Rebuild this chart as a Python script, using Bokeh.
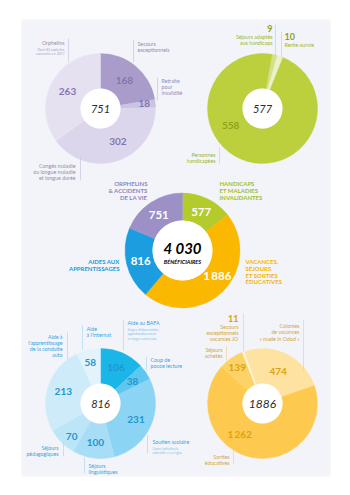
import numpy as np
from bokeh.plotting import figure
from bokeh.core.properties import value
from bokeh.embed import file_html
from bokeh.resources import INLINE

W, H = 350, 495

# ---------------- data ----------------
main_categories = ["HANDICAPS\nET MALADIES\nINVALIDANTES",
                   "VACANCES,\nSÉJOURS\nET SORTIES\nÉDUCATIVES",
                   "AIDES AUX\nAPPRENTISSAGES",
                   "ORPHELINS\n& ACCIDENTS\nDE LA VIE"]
main_values = [577, 1886, 816, 751]
main_caption = "BÉNÉFICIAIRES"

orph_categories = ["Secours\nexceptionnels", "Retraite\npour\ninvalidité",
                   "Congés maladie\nou longue maladie\net longue durée", "Orphelins"]
orph_notes = ["", "", "", "Dont 83 orphelins\nconcernés en 2017"]
orph_values = [168, 18, 302, 263]

hand_categories = ["Séjours adaptés\naux handicaps", "Rente-survie", "Personnes\nhandicapées"]
hand_values = [9, 10, 558]

appr_categories = ["Aide au BAFA", "Coup de\npouce lecture", "Soutien scolaire",
                   "Séjours\nlinguistiques", "Séjours\npédagogiques",
                   "Aide à\nl'apprentissage\nde la conduite\nauto", "Aide\nà l'internat"]
appr_notes = ["Stages d'observation,\napprofondissement\net stages extérieurs", "",
              "Cours individuels,\ncollectifs et en ligne", "", "", "", ""]
appr_values = [106, 38, 231, 100, 70, 213, 58]

vac_categories = ["Colonies\nde vacances\n« made in Odod »", "Sorties\néducatives",
                  "Séjours\nachetés", "Secours\nexceptionnels\nvacances JO"]
vac_values = [474, 1262, 139, 11]


def fmt(v, sep="\u2009"):
    s = f"{v:,}"
    return s.replace(",", sep)


# ---------------- figure ----------------
p = figure(width=W, height=H, x_range=(0, W), y_range=(0, H),
           output_backend="svg", toolbar_location=None,
           x_axis_type=None, y_axis_type=None, min_border=0,
           outline_line_color=None, background_fill_color="white",
           border_fill_color="white")
p.xgrid.grid_line_color = None
p.ygrid.grid_line_color = None


def Y(y):
    return H - np.asarray(y, dtype=float)


FONT = value("Lato")

# background panel
p.quad(left=21, right=330, top=Y(19), bottom=Y(476), fill_color="#f3f4fa", line_color=None)


def donut(cx, cy, values, colors, start, r_in, r_out):
    vals = np.array(values, dtype=float)
    cum = np.concatenate([[0.0], np.cumsum(vals)]) / vals.sum() * 360.0 + start
    ts, te = cum[:-1], cum[1:]
    p.annular_wedge(x=cx, y=float(Y(cy)), inner_radius=r_in, outer_radius=r_out,
                    start_angle=np.pi / 2 - np.radians(te), end_angle=np.pi / 2 - np.radians(ts),
                    fill_color=colors, line_color=colors, line_width=0.4)
    p.scatter(x=[cx], y=[float(Y(cy))], size=2 * r_in, marker="circle",
              fill_color="white", line_color=None)
    return (ts + te) / 2


def polar(cx, cy, theta, r):
    t = np.radians(theta)
    return cx + r * np.sin(t), cy - r * np.cos(t)


def text_lines(x, y, txt, align, color, size, lh, style="normal"):
    lines = txt.split("\n")
    ys = [y + i * lh for i in range(len(lines))]
    p.text(x=[x] * len(lines), y=list(Y(ys)), text=lines, text_font=FONT,
           text_font_size=f"{size}px", text_font_style=style, text_color=color,
           text_align=align, text_baseline="middle")


def leader(x, y0, y1, color):
    p.segment(x0=[x], y0=[float(Y(y0))], x1=[x], y1=[float(Y(y1))],
              line_color=color, line_width=0.7)


def value_labels(cx, cy, thetas, r, vals, color, size, overrides=None, sep="\u2009"):
    overrides = overrides or {}
    xs, ys, ts = [], [], []
    for i, (th, v) in enumerate(zip(thetas, vals)):
        if i in overrides and overrides[i] is None:
            continue
        th2, r2 = overrides.get(i, (th, r))
        x, y = polar(cx, cy, th2, r2)
        xs.append(x); ys.append(y); ts.append(fmt(v, sep))
    p.text(x=xs, y=list(Y(ys)), text=ts, text_font=FONT, text_font_size=f"{size}px",
           text_font_style="bold", text_color=color, text_align="center", text_baseline="middle")


def center_total(cx, cy, vals, size=12):
    p.text(x=[cx], y=[float(Y(cy))], text=[str(sum(vals))], text_font=FONT,
           text_font_size=f"{size}px", text_font_style="italic", text_color="#2b2b2b",
           text_align="center", text_baseline="middle")


# ---------------- top-left : orphelins ----------------
cx, cy = 100, 108
orph_colors = ["#a99cca", "#cbc3e2", "#dbd6eb", "#e5e1f1"]
mids = donut(cx, cy, orph_values, orph_colors, 0, 20, 55)
value_labels(cx, cy, mids, 37, orph_values, "#8376b0", 10, {1: (84, 44), 2: (152, 37)})
center_total(cx, cy, orph_values, 11)
oc_txt, oc_line = "#958db0", "#c9c3de"
orph_layout = [  # x, y, align, leader x, y0, y1
    (137, 43, "left", 133, 39, 62),
    (161, 80, "left", 157, 77, 100),
    (75, 165, "right", 80, 156, 180),
    (64, 42, "right", 68, 38, 62),
]
for cat, note, (x, y, al, lx, ly0, ly1) in zip(orph_categories, orph_notes, orph_layout):
    text_lines(x, y, cat, al, oc_txt, 5.3, 6)
    leader(lx, ly0, ly1, oc_line)
    if note:
        text_lines(x, y + 7, note, al, "#aaa3c6", 3.4, 4)

# ---------------- top-right : handicaps ----------------
cx, cy = 262, 108
hand_colors = ["#d4e18c", "#ebf1c8", "#bccf3d"]
mids = donut(cx, cy, hand_values, hand_colors, 10, 20, 55)
value_labels(cx, cy, mids, 37, hand_values, "#8ea21a", 10, {0: None, 1: None, 2: (242, 36)})
center_total(cx, cy, hand_values, 11)
hc_txt, hc_line = "#9ab52c", "#cfdc88"
hand_layout = [
    (272, 28, "right", 275, 24, 55),
    (284, 36, "left", 281, 31, 57),
    (215, 154, "right", 219, 147, 163),
]
for i, (cat, (x, y, al, lx, ly0, ly1)) in enumerate(zip(hand_categories, hand_layout)):
    if i < 2:
        text_lines(x, y, str(hand_values[i]), al, "#8ea21a", 9, 7, "bold")
        text_lines(x, y + 8, cat, al, hc_txt, 5.3, 6.5)
    else:
        text_lines(x, y, cat, al, hc_txt, 5.3, 6)
    leader(lx, ly0, ly1, hc_line)

# ---------------- centre : total ----------------
cx, cy = 182, 250
main_colors = ["#b4cb2c", "#fbb800", "#1b9ddf", "#9c90c6"]
mids = donut(cx, cy, main_values, main_colors, 0, 30, 57.5)
value_labels(cx, cy, mids, 43, main_values, "white", 11.5, {1: (126, 43)}, sep="\u2009")
p.text(x=[cx], y=[float(Y(cy - 3))], text=[fmt(sum(main_values), " ")], text_font=FONT,
       text_font_size="15px", text_font_style="bold italic", text_color="black",
       text_align="center", text_baseline="middle")
p.text(x=[cx], y=[float(Y(cy + 11))], text=[main_caption], text_font=FONT,
       text_font_size="5.6px", text_font_style="bold italic", text_color="black",
       text_align="center", text_baseline="middle")
main_text_colors = ["#a5bf1b", "#f5b400", "#1a9ad8", "#8f84c0"]
main_layout = [(219, 183, "left"), (245, 261, "left"), (119, 261, "right"), (147, 183, "right")]
for cat, col, (x, y, al) in zip(main_categories, main_text_colors, main_layout):
    text_lines(x, y, cat, al, col, 6, 6.8, "bold")

# ---------------- bottom-left : apprentissages ----------------
cx, cy = 100, 403
appr_colors = ["#1ab6e8", "#5dc7ef", "#8cd4f4", "#a7ddf6", "#bce5f8", "#cdebf9", "#e3f3fc"]
mids = donut(cx, cy, appr_values, appr_colors, 0, 20, 55)
value_labels(cx, cy, mids, 39, appr_values, "#2495cf", 10, {4: (221, 44), 6: (346, 42)})
center_total(cx, cy, appr_values, 11)
ac_txt, ac_line, ac_note = "#37a5dc", "#a8daf3", "#7cc4e8"
appr_layout = [
    (127, 322, "left", 123, 319, 350),
    (150, 359, "left", 146, 356, 370),
    (152, 441, "left", 147, 434, 453),
    (88, 465, "left", 84, 457, 473),
    (58, 447, "right", 63, 442, 456),
    (62, 336, "right", 67, 332, 359),
    (86, 328, "left", 82, 325, 349),
]
for cat, note, (x, y, al, lx, ly0, ly1) in zip(appr_categories, appr_notes, appr_layout):
    n = len(cat.split("\n"))
    text_lines(x, y, cat, al, ac_txt, 5.3, 6)
    leader(lx, ly0, ly1, ac_line)
    if note:
        text_lines(x, y + 6 * n + 1, note, al, ac_note, 3.4, 4.5)

# ---------------- bottom-right : vacances ----------------
cx, cy = 262, 403
vac_colors = ["#fee2a1", "#fec94f", "#fdd367", "#fff4dc"]
mids = donut(cx, cy, vac_values, vac_colors, -19.5, 20, 55)
value_labels(cx, cy, mids, 36, vac_values, "#dba313", 10, {1: (217, 38), 2: (325, 44), 3: None})
center_total(cx, cy, vac_values, 12)
vc_txt, vc_line = "#d3a53a", "#f1d28a"
vac_layout = [
    (299, 325, "right", 303, 319, 370),
    (229, 456, "right", 233, 450, 463),
    (222, 349, "right", 226, 346, 360),
    (238, 318, "right", 243, 313, 351),
]
for i, (cat, (x, y, al, lx, ly0, ly1)) in enumerate(zip(vac_categories, vac_layout)):
    if i == 3:
        text_lines(x, y, str(vac_values[i]), al, "#d9a10b", 9, 7, "bold")
        text_lines(x, y + 8, cat, al, vc_txt, 5.3, 6)
    else:
        text_lines(x, y, cat, al, vc_txt, 5.3, 6.5)
    leader(lx, ly0, ly1, vc_line)

with open("out.html", "w") as f:
    f.write(file_html(p, INLINE))
